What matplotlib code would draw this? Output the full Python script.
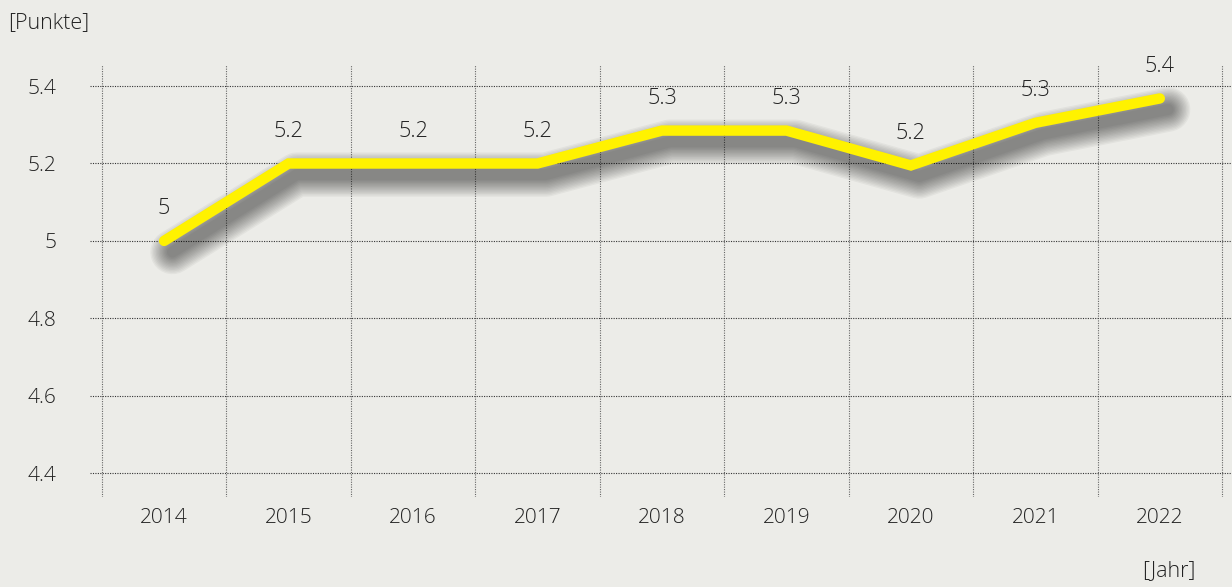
import matplotlib
matplotlib.use('Agg')
import matplotlib.pyplot as plt
import matplotlib.transforms as mtransforms

years = ['2014', '2015', '2016', '2017', '2018', '2019', '2020', '2021', '2022']
values = [5.0, 5.2, 5.2, 5.2, 5.285, 5.285, 5.195, 5.305, 5.368]
value_labels = ['5', '5.2', '5.2', '5.2', '5.3', '5.3', '5.2', '5.3', '5.4']
y_ticks = [4.4, 4.6, 4.8, 5.0, 5.2, 5.4]
y_tick_labels = ['4.4', '4.6', '4.8', '5', '5.2', '5.4']

bg = '#ecece8'
txt = '#222222'
plt.rcParams['font.family'] = ['Open Sans', 'DejaVu Sans']
plt.rcParams['font.weight'] = 'light'

fig = plt.figure(figsize=(12.32, 5.87), dpi=100, facecolor=bg)
ax = fig.add_axes([0.073, 0.153, 0.927, 0.736])
ax.set_facecolor(bg)

x = list(range(len(years)))

# soft drop shadow: many wide translucent strokes, shifted down-right
shift = mtransforms.offset_copy(ax.transData, fig=fig, x=6, y=-8, units='points')
for w in range(32, 7, -2):
    ax.plot(x, values, color='black', alpha=0.04, lw=w, transform=shift,
            solid_capstyle='round', solid_joinstyle='round', zorder=2)

ax.plot(x, values, color='#fff200', lw=7.5, solid_capstyle='round',
        solid_joinstyle='miter', zorder=3)

for xi, v, lab in zip(x, values, value_labels):
    ax.annotate(lab, (xi, v), xytext=(0, 23), textcoords='offset points',
                ha='center', va='center', fontsize=15.5, color=txt, zorder=4)

ax.set_xlim(-0.596, 8.58)
ax.set_ylim(4.338, 5.454)

ax.set_yticks(y_ticks)
ax.set_yticklabels(y_tick_labels)
ax.set_xticks(x)
ax.set_xticklabels(years)
ax.set_xticks([i - 0.5 for i in range(len(years) + 1)], minor=True)

ax.tick_params(axis='both', which='both', length=0, colors=txt, labelsize=15)
ax.tick_params(axis='y', pad=24)
ax.tick_params(axis='x', pad=8)

ax.grid(True, axis='y', which='major', color='#333333', lw=0.8, linestyle=(0, (1, 1.2)))
ax.grid(True, axis='x', which='minor', color='#666666', lw=0.8, linestyle=(0, (1, 1.2)))
ax.grid(False, axis='x', which='major')
ax.set_axisbelow(True)

for s in ax.spines.values():
    s.set_visible(False)

fig.text(0.007, 0.962, '[Punkte]', fontsize=15.5, color=txt, ha='left', va='center')
fig.text(0.97, 0.028, '[Jahr]', fontsize=15.5, color=txt, ha='right', va='center')

plt.savefig('out.png', dpi=100, facecolor=bg)
